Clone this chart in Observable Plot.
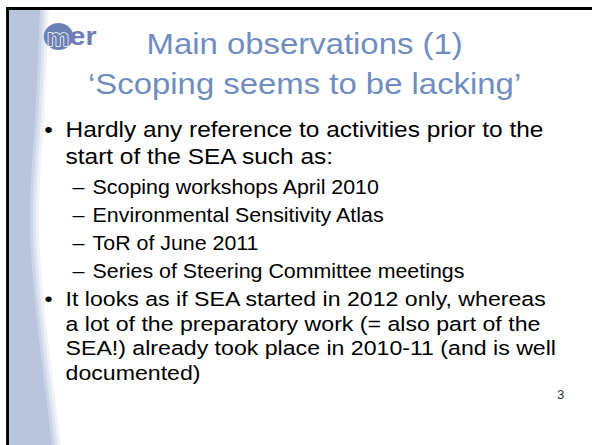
<!DOCTYPE html>
<html><head><meta charset="utf-8">
<script src="https://cdn.jsdelivr.net/npm/d3@7"></script>
<script src="https://cdn.jsdelivr.net/npm/@observablehq/plot@0.6"></script>
<style>html,body{margin:0;padding:0;background:#fff;overflow:hidden}</style>
</head><body><div id="chart"></div>
<script>
// Slide content
const logoText = ["m", "er"];
const titleLines = ["Main observations (1)", "\u2018Scoping seems to be lacking\u2019"];
const bullet1Lines = ["Hardly any reference to activities prior to the", "start of the SEA such as:"];
const subItems = ["Scoping workshops April 2010", "Environmental Sensitivity Atlas", "ToR of June 2011", "Series of Steering Committee meetings"];
const bullet2Lines = ["It looks as if SEA started in 2012 only, whereas", "a lot of the preparatory work (= also part of the", "SEA!) already took place in 2010-11 (and is well", "documented)"];
const pageNumber = ["3"];

// Decorative left band outline (layout)
const bandEdge = [
  {y: 8, x: 40}, {y: 60, x: 38}, {y: 120, x: 35}, {y: 180, x: 31},
  {y: 230, x: 30}, {y: 280, x: 33}, {y: 330, x: 38}, {y: 380, x: 44}, {y: 445, x: 52}
];

const W = 592, H = 445, S = 1.096;
const mid = (base, size) => base - 0.32 * size;
const font = "'Liberation Sans', Arial, sans-serif";
const blue = "#6f8dbf";
const body1 = 22.3, body2 = 21.1;

const plot = Plot.plot({
  width: Math.round(W / S), height: H, margin: 0,
  x: {domain: [0, W], range: [0, W / S], axis: null},
  y: {domain: [0, H], range: [0, H], axis: null},
  style: {background: "#fff", fontFamily: font, overflow: "visible"},
  marks: [
    Plot.areaX(bandEdge, {y: "y", x1: 8, x2: d => d.x + 9, curve: "catmull-rom", fill: "#f0f3f8"}),
    Plot.areaX(bandEdge, {y: "y", x1: 8, x2: d => d.x + 6, curve: "catmull-rom", fill: "#dfe5f0"}),
    Plot.areaX(bandEdge, {y: "y", x1: 8, x2: d => d.x + 3, curve: "catmull-rom", fill: "#cbd5e7"}),
    Plot.areaX(bandEdge, {y: "y", x1: 8, x2: "x", curve: "catmull-rom", fill: "#b8c5dd"}),
    Plot.ruleX([7], {y1: 7, y2: H, stroke: "#000", strokeWidth: 2.6}),
    Plot.ruleY([8], {x1: 6, x2: W, stroke: "#000", strokeWidth: 2.8}),
    // logo
    Plot.dot([0], {x: 58, y: 36, r: 13.5, fill: "#6c80b5"}),
    Plot.text([logoText[0]], {x: 57.5, y: mid(45, 23), text: d => d, fontSize: 23, fontWeight: "bold", fill: "#6c80b5", stroke: "#fff", strokeWidth: 1.4, textAnchor: "middle"}),
    Plot.text([logoText[1]], {x: 69, y: mid(44, 26), text: d => d, fontSize: 26, fontWeight: "bold", fill: "#6c80b5", textAnchor: "start"}),
    // title
    Plot.text(titleLines, {x: 304, y: (d, i) => mid(53 + i * 40, 30), text: d => d, fontSize: 30, fill: blue, textAnchor: "middle"}),
    // bullet 1
    Plot.text(["\u2022"], {x: 48, y: mid(136, body1), text: d => d, fontSize: body1, fill: "#000", textAnchor: "middle"}),
    Plot.text(bullet1Lines, {x: 65, y: (d, i) => mid(136 + i * 27, body1), text: d => d, fontSize: body1, fill: "#000", textAnchor: "start"}),
    // sub items
    Plot.text(subItems, {x: 72, y: (d, i) => mid(193 + i * 28, 19.5), text: () => "\u2013", fontSize: 19.5, fill: "#000", textAnchor: "start"}),
    Plot.text(subItems, {x: 92, y: (d, i) => mid(193 + i * 28, 19.5), text: d => d, fontSize: 19.5, fill: "#000", textAnchor: "start"}),
    // bullet 2
    Plot.text(["\u2022"], {x: 48, y: mid(305.5, body2), text: d => d, fontSize: body2, fill: "#000", textAnchor: "middle"}),
    Plot.text(bullet2Lines, {x: 65, y: (d, i) => mid(305.5 + i * 24.5, body2), text: d => d, fontSize: body2, fill: "#000", textAnchor: "start"}),
    // page number
    Plot.text(pageNumber, {x: 560, y: mid(398, 12), text: d => d, fontSize: 12, fill: "#333", textAnchor: "middle"})
  ]
});
plot.setAttribute("preserveAspectRatio", "none");
plot.style.width = W + "px";
plot.style.height = H + "px";
plot.style.maxWidth = "none";
document.getElementById("chart").appendChild(plot);
</script></body></html>
